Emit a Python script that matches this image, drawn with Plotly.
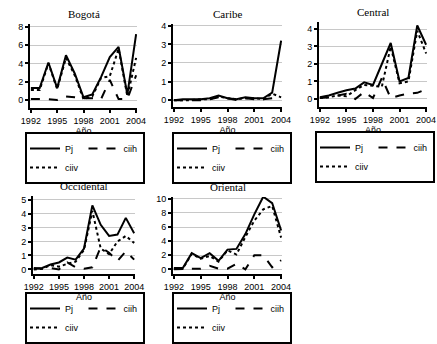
import plotly.graph_objects as go

years = list(range(1992, 2005))
regions = ["Bogotá", "Caribe", "Central", "Occidental", "Oriental"]

bogota_pj   = [1.3, 1.3, 4.1, 1.3, 4.9, 2.9, 0.3, 0.6, 2.5, 4.7, 5.8, 0.6, 7.2]
bogota_ciih = [0.1, 0.1, 0.1, 0.0, 0.4, 0.3, 0.2, 0.2, 0.1, 2.2, 0.1, 0.1, 2.7]
bogota_ciiv = [1.1, 1.1, 4.0, 1.2, 4.6, 2.7, 0.1, 0.4, 2.4, 2.6, 5.6, 0.4, 4.6]

caribe_pj   = [0.0, 0.05, 0.05, 0.05, 0.1, 0.25, 0.1, 0.05, 0.15, 0.1, 0.1, 0.4, 3.2]
caribe_ciih = [0.0, 0.0, 0.0, 0.0, 0.05, 0.15, 0.1, 0.0, 0.1, 0.05, 0.05, 0.1, 0.1]
caribe_ciiv = [0.0, 0.0, 0.0, 0.05, 0.05, 0.2, 0.1, 0.05, 0.1, 0.1, 0.05, 0.35, 0.15]

central_pj   = [0.1, 0.2, 0.35, 0.5, 0.6, 0.95, 0.8, 2.0, 3.2, 1.0, 1.2, 4.2, 3.1]
central_ciih = [0.05, 0.1, 0.2, 0.3, 0.0, 0.4, 0.05, 1.2, 0.05, 0.2, 0.3, 0.35, 0.55]
central_ciiv = [0.05, 0.1, 0.2, 0.15, 0.5, 0.8, 0.75, 0.7, 3.0, 0.9, 1.0, 3.9, 2.6]

occidental_pj   = [0.05, 0.1, 0.35, 0.5, 0.85, 0.7, 1.5, 4.6, 3.2, 2.4, 2.5, 3.7, 2.6]
occidental_ciih = [0.1, 0.05, 0.1, 0.0, 0.5, 0.15, 0.05, 0.15, 1.6, 1.2, 0.6, 1.3, 0.7]
occidental_ciiv = [0.0, 0.05, 0.3, 0.2, 0.4, 0.55, 1.4, 4.2, 1.5, 1.1, 2.0, 2.4, 1.9]

oriental_pj   = [0.2, 0.2, 2.3, 1.6, 2.3, 1.2, 2.8, 2.9, 5.0, 7.8, 10.3, 9.4, 5.5]
oriental_ciih = [0.0, 0.0, 0.0, 0.1, 0.5, 0.1, 0.1, 0.8, 0.0, 2.0, 2.0, 0.3, 1.3]
oriental_ciiv = [0.1, 0.1, 2.2, 1.5, 1.9, 1.1, 2.7, 2.1, 4.6, 6.9, 8.5, 9.0, 4.5]

series_names = ["Pj", "ciih", "ciiv"]
x_ticks = [1992, 1995, 1998, 2001, 2004]

data = {
    "Bogotá": (bogota_pj, bogota_ciih, bogota_ciiv),
    "Caribe": (caribe_pj, caribe_ciih, caribe_ciiv),
    "Central": (central_pj, central_ciih, central_ciiv),
    "Occidental": (occidental_pj, occidental_ciih, occidental_ciiv),
    "Oriental": (oriental_pj, oriental_ciih, oriental_ciiv),
}
y_ticks = {
    "Bogotá": [0, 2, 4, 6, 8],
    "Caribe": [0, 1, 2, 3, 4],
    "Central": [0, 1, 2, 3, 4],
    "Occidental": [0, 1, 2, 3, 4, 5],
    "Oriental": [0, 2, 4, 6, 8, 10],
}

W, H = 437, 344
# plot areas in pixels: (x0, x1, ytop, ybottom), y range
boxes = {
    "Bogotá": (30, 137, 24, 108, [-0.87, 8.3]),
    "Caribe": (173, 282, 24, 107, [-0.37, 4.1]),
    "Central": (319, 427, 22, 107, [-0.46, 4.4]),
    "Occidental": (33, 135, 196, 274, [-0.33, 5.27]),
    "Oriental": (173, 282, 197, 274, [-0.66, 10.26]),
}
# legend anchor (x left, y, anchor)
legend_pos = {
    "Bogotá": (25, 132, "top"),
    "Caribe": (172, 132, "top"),
    "Central": (315, 131, "top"),
    "Occidental": (25, 344, "bottom"),
    "Oriental": (172, 344, "bottom"),
}

dashes = ["solid", "dash", "dot"]
groups = ["a", "b", "a"]
fig = go.Figure()
layout = dict(
    template="none",
    width=W, height=H, margin=dict(l=0, r=0, t=0, b=0, autoexpand=False),
    paper_bgcolor="white", plot_bgcolor="white",
    font=dict(family="Liberation Sans, Arial", size=9, color="black"),
    annotations=[],
)

for i, reg in enumerate(regions):
    n = i + 1
    xa = "x" if n == 1 else f"x{n}"
    ya = "y" if n == 1 else f"y{n}"
    lg = "legend" if n == 1 else f"legend{n}"
    vals = data[reg]
    for name, v, d, g in zip(series_names, vals, dashes, groups):
        fig.add_trace(go.Scatter(
            x=years, y=v, mode="lines", name=name,
            line=dict(color="black", width=2, dash=d),
            xaxis=xa, yaxis=ya, legend=lg, showlegend=True,
            legendgroup=f"{reg}-{g}",
        ))
    x0, x1, yt, yb, yr = boxes[reg]
    layout["xaxis" if n == 1 else f"xaxis{n}"] = dict(
        domain=[x0 / W, x1 / W], anchor=ya, range=[1991.9, 2004.1],
        tickvals=x_ticks, ticks="outside", ticklen=3, tickwidth=1.5,
        tickcolor="black", automargin=False,
        showline=True, linecolor="black", linewidth=2, showgrid=False,
        zeroline=False, tickfont=dict(size=9), tickangle=0,
        title=dict(text="Año", font=dict(size=9), standoff=0),
    )
    layout["yaxis" if n == 1 else f"yaxis{n}"] = dict(
        domain=[1 - yb / H, 1 - yt / H], anchor=xa, range=yr,
        tickvals=y_ticks[reg], ticks="outside", ticklen=3, tickwidth=1.5,
        tickcolor="black", automargin=False,
        showline=True, linecolor="black", linewidth=2,
        showgrid=True, gridcolor="#c8c8c8", gridwidth=1,
        zeroline=False, tickfont=dict(size=9),
    )
    lx, ly, anc = legend_pos[reg]
    layout[lg] = dict(
        x=lx / W, y=1 - ly / H, xref="paper", yref="paper",
        xanchor="left", yanchor=anc, orientation="h",
        bordercolor="black", borderwidth=2, bgcolor="white",
        font=dict(size=9), traceorder="grouped",
        tracegroupgap=0, itemwidth=30,
    )
    layout["annotations"].append(dict(
        text=reg, x=(x0 + x1) / 2 / W, y=1 - (yt - 10) / H,
        xref="paper", yref="paper", showarrow=False,
        font=dict(family="Liberation Serif, Times New Roman", size=11),
        xanchor="center", yanchor="middle",
    ))

fig.update_layout(**layout)
fig.write_html(
    "out.html",
    config={"displayModeBar": False},
    post_script="document.body.style.margin='0px';document.body.style.overflow='hidden';",
)
